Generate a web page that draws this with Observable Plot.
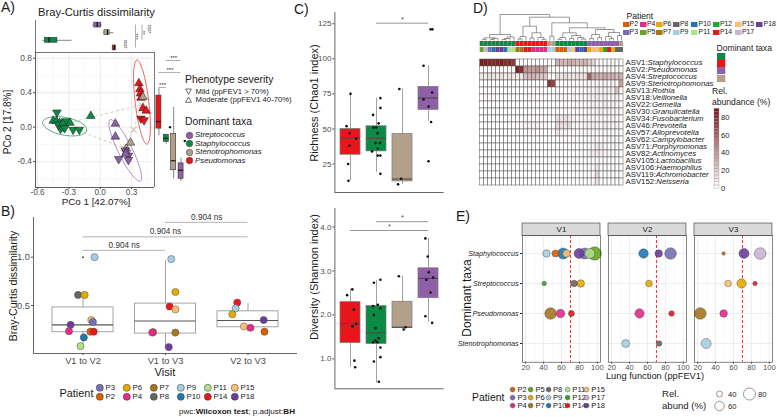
<!DOCTYPE html>
<html><head><meta charset="utf-8">
<script src="https://cdn.jsdelivr.net/npm/d3@7"></script>
<script src="https://cdn.jsdelivr.net/npm/@observablehq/plot@0.6"></script>
<style>
html,body{margin:0;padding:0;background:#fff;}
#root{position:relative;width:777px;height:417px;overflow:hidden;background:#fff;font-family:'Liberation Sans',Arial,Helvetica,sans-serif;color:#1a1a1a;}
#root svg{position:absolute;overflow:visible;max-width:none;}
.lbl{position:absolute;white-space:nowrap;line-height:1;}
.lg{position:absolute;display:grid;grid-auto-flow:column;align-items:center;white-space:nowrap;line-height:1;}
.it{display:flex;align-items:center;}
#root .it svg{position:static;flex:none;overflow:visible;}
</style></head><body><div id="root"></div><script>
// ================= DATA =================
// shared categories
const taxa = ["Streptococcus","Staphylococcus","Stenotrophomonas","Pseudomonas"];
const taxaColors = ["#8F5FA8","#0B8A45","#B2A08A","#E8161B"];
const patients = ["P2","P3","P4","P5","P6","P7","P8","P9","P10","P11","P12","P14","P15","P17","P18"];
const patientColors = ["#D95F02","#7570B3","#E7298A","#66A61E","#E6AB02","#A6761D","#666666","#A6CEE3","#1F78B4","#B2DF8A","#33A02C","#E31A1C","#FDBF6F","#CAB2D6","#6A3D9A"];

// A) PCoA points
const pcoTaxon = [
 "Staphylococcus","Staphylococcus","Staphylococcus","Staphylococcus","Staphylococcus","Staphylococcus","Staphylococcus","Staphylococcus","Staphylococcus","Staphylococcus","Staphylococcus","Staphylococcus","Staphylococcus","Staphylococcus","Staphylococcus",
 "Pseudomonas","Pseudomonas","Pseudomonas","Pseudomonas","Pseudomonas","Pseudomonas","Pseudomonas","Pseudomonas",
 "Stenotrophomonas","Stenotrophomonas","Stenotrophomonas",
 "Streptococcus","Streptococcus","Streptococcus","Streptococcus","Streptococcus","Streptococcus","Streptococcus","Streptococcus"];
const pcoX = [-0.415,-0.45,-0.42,-0.39,-0.37,-0.35,-0.38,-0.33,-0.29,-0.26,-0.20,-0.09,-0.40,-0.36,-0.34,
 0.37,0.38,0.385,0.39,0.41,0.44,0.39,0.42,
 0.41,0.29,0.25,
 0.145,0.145,0.24,0.25,0.27,0.177,0.27,0.245];
const pcoY = [0.17,0.075,0.07,0.05,0.03,0.0,-0.02,0.07,0.05,-0.03,-0.03,0.13,0.03,0.04,-0.01,
 0.51,0.44,0.39,0.34,0.22,0.19,0.10,0.08,
 0.35,-0.18,-0.25,
 0.04,-0.11,-0.27,-0.29,-0.33,-0.37,-0.38,-0.31];
const pcoSeverity = ["Mild","Moderate","Moderate","Moderate","Moderate","Mild","Mild","Mild","Moderate","Mild","Mild","Moderate","Mild","Moderate","Mild",
 "Moderate","Moderate","Moderate","Moderate","Moderate","Moderate","Mild","Mild",
 "Moderate","Moderate","Moderate",
 "Moderate","Moderate","Mild","Moderate","Mild","Mild","Mild","Moderate"];
const severityLabels = ["Mild (ppFEV1 > 70%)","Moderate (ppFEV1 40-70%)"];
const pcoXDomain = [-0.62, 0.52];
const pcoYDomain = [-0.70, 0.866];
const pcoTicksX = [-0.6,-0.3,0.0,0.3];
const pcoTicksY = [-0.4,0.0,0.4,0.8];
const pcoMinorX = [-0.45,-0.15,0.15,0.45];
const pcoMinorY = [-0.6,-0.2,0.2,0.6];
// 95% ellipses: centre, first and second half-axis vectors (data units)
const ellipseTaxon = ["Staphylococcus","Pseudomonas","Streptococcus"];
const ellipseCx = [-0.34, 0.40, 0.24];
const ellipseCy = [0.01, 0.29, -0.27];
const ellipseUx = [0.21, -0.048, -0.145];
const ellipseUy = [-0.05, 0.487, 0.355];
const ellipseVx = [0.02, 0.065, 0.06];
const ellipseVy = [0.10, 0.006, 0.036];
// group centroids and dashed links between them
const centroidTaxon = ["Staphylococcus","Pseudomonas","Stenotrophomonas","Streptococcus"];
const centroidX = [-0.36, 0.395, 0.32, 0.225];
const centroidY = [0.03, 0.26, -0.03, -0.24];
const linkFrom = ["Staphylococcus","Staphylococcus","Stenotrophomonas","Stenotrophomonas"];
const linkTo = ["Pseudomonas","Streptococcus","Pseudomonas","Streptococcus"];
// marginal boxplots (PCo1 on top, PCo2 on the right)
const topBoxTaxa = ["Streptococcus","Stenotrophomonas","Staphylococcus","Pseudomonas"];
const topBoxLo  = [-0.07, 0.035, -0.55, 0.115];
const topBoxQ1  = [-0.057, 0.04, -0.53, 0.12];
const topBoxMed = [-0.03, 0.07, -0.49, 0.135];
const topBoxQ3  = [0.01, 0.09, -0.41, 0.15];
const topBoxHi  = [0.02, 0.13, -0.27, 0.155];
const topSigX = [0.232, 0.338, 0.40, 0.46];
const topSigFrom = [2, 0, 0, 0];
const topSigTo = [3, 3, 2, 1];
const topSigLabel = ["****","***","**","****"];
const sideBoxTaxa = ["Pseudomonas","Staphylococcus","Stenotrophomonas","Streptococcus"];
const sideBoxLo  = [-0.10, -0.20, -0.60, -0.63];
const sideBoxQ1  = [-0.017, -0.17, -0.50, -0.60];
const sideBoxMed = [0.064, -0.13, -0.39, -0.50];
const sideBoxQ3  = [0.366, -0.09, -0.08, -0.42];
const sideBoxHi  = [0.45, -0.08, 0.23, -0.36];
const sideOutTaxa = ["Staphylococcus","Streptococcus"];
const sideOutY = [0.0, -0.16];
const sideSigY = [0.773, 0.633, 0.46];
const sideSigFrom = [1, 0, 0];
const sideSigTo = [3, 3, 1];
const sideSigLabel = ["***","***","***"];

// B) Bray-Curtis between visits
const visits = ["V1 to V2","V1 to V3","V2 to V3"];
const bcLo  = [0.08, 0.06, 0.23];
const bcQ1  = [0.224, 0.21, 0.275];
const bcMed = [0.30, 0.34, 0.345];
const bcQ3  = [0.48, 0.52, 0.44];
const bcHi  = [0.62, 0.97, 0.52];
const bcOutVisit = ["V1 to V2"];
const bcOutValue = [1.0];
const bcPointVisit = ["V1 to V2","V1 to V2","V1 to V2","V1 to V2","V1 to V2","V1 to V2","V1 to V2","V1 to V2","V1 to V2","V1 to V2","V1 to V2",
 "V1 to V3","V1 to V3","V1 to V3","V1 to V3","V1 to V3","V1 to V3","V1 to V3","V1 to V3",
 "V2 to V3","V2 to V3","V2 to V3","V2 to V3","V2 to V3","V2 to V3","V2 to V3"];
const bcPointPatient = ["P9","P8","P6","P18","P15","P3","P4","P2","P14","P10","P11",
 "P9","P6","P14","P15","P2","P4","P7","P18",
 "P14","P9","P6","P18","P15","P4","P2"];
const bcPointJitter = [0.14,-0.06,0.02,-0.15,0.10,0.12,-0.17,0.09,0.13,0.01,-0.03,
 0.07,0.12,0.05,0.12,-0.15,-0.16,0.12,0.04,
 -0.13,-0.15,-0.19,0.19,-0.05,0.03,0.2];
const bcPointValue = [1.0,0.61,0.61,0.30,0.35,0.33,0.235,0.23,0.23,0.17,0.08,
 0.98,0.64,0.49,0.46,0.225,0.22,0.22,0.07,
 0.53,0.47,0.41,0.35,0.285,0.27,0.23];
const bcSigFrom = [0, 0, 1];
const bcSigTo = [1, 2, 2];
const bcSigY = [1.07, 1.21, 1.36];
const bcSigLabel = ["0.904 ns","0.904 ns","0.904 ns"];
const bcTicks = [0.5, 1.0];
const bcDomain = [0.004, 1.41];

// C) alpha diversity by dominant taxon
const cTaxa = ["Pseudomonas","Staphylococcus","Stenotrophomonas","Streptococcus"];
const chaoLo  = [13, 19, 10.5, 55.4];
const chaoQ1  = [31.6, 34, 12.6, 63.6];
const chaoMed = [43.6, 43.3, 14.3, 72];
const chaoQ3  = [50, 51.9, 46.4, 80];
const chaoHi  = [75.4, 72, 78.6, 95];
const chaoGroup = [0,0,0,0,0,0,0, 1,1,1,1,1,1,1,1,1,1,1,1,1,1, 2,2,2, 3,3,3,3,3,3,3,3];
const chaoJitter = [0,-0.15,-0.03,0.22,-0.04,-0.09,-0.08,
 0.15,0.15,-0.13,0.08,-0.12,-0.01,0.04,-0.04,0.13,0.05,-0.17,0.05,0.15,0.15,
 -0.12,-0.05,-0.17,
 0.08,0.15,-0.19,0.14,-0.19,0,0.1,0];
const chaoValue = [75,52,47,43,38,25,13,
 72,65,60,54,51,51,47,40,40,36,34,31,31,18,
 78.5,14.5,10.5,
 121,121,95,76,71,66,55,27];
const chaoSigFrom = [1], chaoSigTo = [3], chaoSigY = [125.4], chaoSigLabel = ["*"];
const chaoDomain = [4.7, 133];
const chaoTicks = [25, 50, 75, 100, 125];
const shanLo  = [0.81, 0.45, 1.67, 1.83];
const shanQ1  = [1.36, 1.34, 1.70, 2.38];
const shanMed = [1.80, 1.59, 1.72, 2.83];
const shanQ3  = [2.29, 2.20, 2.30, 3.06];
const shanHi  = [2.59, 2.78, 2.88, 3.74];
const shanGroup = [0,0,0,0,0,0,0, 1,1,1,1,1,1,1,1,1,1,1,1,1,1,1, 2,2,2, 3,3,3,3,3,3,3,3];
const shanJitter = [0.07,-0.13,0.13,0.22,0.08,0.15,0.18,
 0.15,-0.1,-0.13,0.05,0.15,-0.1,-0.04,-0.04,0.09,-0.13,0.03,0.15,-0.1,0.15,0.09,
 -0.14,0.12,0.05,
 -0.12,-0.03,0.01,0.18,-0.08,0.08,-0.12,0.14];
const shanValue = [2.58,2.45,2.12,1.80,1.74,0.96,0.81,
 2.80,2.73,2.20,2.23,2.15,2.0,1.70,1.42,1.47,1.38,1.38,1.26,0.94,1.04,0.48,
 2.88,1.72,1.67,
 3.74,3.33,2.97,2.85,2.80,2.51,1.97,1.82];
const shanSigFrom = [1, 0], shanSigTo = [3, 3], shanSigY = [4.12, 3.92], shanSigLabel = ["*","*"];
const shanDomain = [0.32, 4.42];
const shanTicks = [1, 2, 3, 4];

// D) heatmap of relative abundance (%)
const asvNames = ["ASV1:Staphylococcus","ASV2:Pseudomonas","ASV4:Streptococcus","ASV9:Stenotrophomonas","ASV13:Rothia","ASV18:Veillonella","ASV22:Gemella","ASV30:Granulicatella","ASV34:Fusobacterium","ASV46:Prevotella","ASV57:Alloprevotella","ASV62:Campylobacter","ASV71:Porphyromonas","ASV82:Actinomyces","ASV105:Lactobacillus","ASV106:Haemophilus","ASV119:Achromobacter","ASV152:Neisseria"];
const heatTaxa = ["Staphylococcus","Staphylococcus","Staphylococcus","Staphylococcus","Staphylococcus","Staphylococcus","Staphylococcus","Staphylococcus","Staphylococcus",
 "Pseudomonas","Pseudomonas","Pseudomonas","Pseudomonas","Pseudomonas","Pseudomonas","Pseudomonas","Pseudomonas",
 "Stenotrophomonas","Stenotrophomonas",
 "Staphylococcus","Staphylococcus","Staphylococcus","Staphylococcus","Staphylococcus","Staphylococcus","Staphylococcus","Staphylococcus",
 "Streptococcus","Streptococcus","Streptococcus","Streptococcus","Streptococcus","Streptococcus","Streptococcus","Streptococcus",
 "Stenotrophomonas"];
const heatPatient = ["P5","P17","P3","P10","P18","P18","P10","P11","P11",
 "P7","P7","P14","P14","P4","P4","P4","P4",
 "P9","P9",
 "P2","P2","P2","P9","P15","P18","P10","P18",
 "P6","P15","P15","P6","P12","P14","P6","P8",
 "P8"];
const abundance = [
 [88,86,84,82,85,87,80,82,76, 2,1,0,1,2,1,0,1, 0,1, 30,28,26,32,30,25,27,29, 20,16,3,2,1,2,1,1, 0],
 [2,1,2,1,2,3,2,1,2, 86,80,42,40,38,44,36,34, 4,2, 2,1,2,1,2,1,3,2, 2,1,1,2,1,3,1,2, 1],
 [10,8,12,10,9,11,8,10,9, 8,10,24,28,30,26,24,22, 3,0, 12,10,14,12,10,12,10,11, 60,34,32,30,33,28,30,26, 30],
 [1,0,1,0,1,0,1,0,1, 1,0,1,2,1,0,1,1, 78,72, 2,1,2,3,2,1,2,2, 3,2,2,2,3,2,3,2, 36],
 [2,1,1,2,1,0,1,2,1, 0,1,2,1,1,2,1,0, 0,0, 3,2,1,2,3,2,1,2, 5,4,6,5,4,6,5,22, 3],
 [1,2,1,1,0,1,1,2,1, 1,2,1,3,2,1,2,1, 0,0, 4,3,2,3,4,2,3,2, 5,4,6,4,5,3,4,6, 1],
 [1,0,1,2,1,0,1,1,0, 1,0,1,2,1,1,0,1, 0,0, 2,1,2,1,2,3,1,2, 4,5,3,4,6,4,5,3, 1],
 [0,1,0,1,1,0,1,0,1, 0,1,0,1,2,1,1,0, 0,0, 2,1,2,2,1,2,1,1, 4,3,5,6,4,5,3,4, 1],
 [0,1,0,0,1,0,0,1,0, 1,2,3,2,1,2,1,1, 0,0, 12,10,11,8,3,2,2,3, 2,3,2,3,2,2,3,2, 0],
 [0,1,1,0,1,1,0,1,0, 2,3,5,6,5,6,4,3, 0,0, 15,14,12,14,4,3,3,4, 4,5,4,3,5,4,3,4, 0],
 [0,0,1,0,0,1,0,0,1, 0,1,1,2,1,1,1,0, 0,0, 10,5,3,2,1,1,2,1, 1,2,1,2,1,2,1,1, 0],
 [0,0,0,1,0,0,1,0,0, 1,0,1,1,0,1,0,1, 0,0, 2,3,2,1,2,1,1,2, 2,3,2,1,2,3,2,2, 0],
 [0,0,0,0,1,0,0,0,0, 0,0,1,0,1,0,0,0, 0,0, 2,1,1,2,1,0,1,1, 2,3,8,6,3,2,2,3, 0],
 [0,0,1,0,0,0,1,0,0, 0,1,0,0,1,0,0,1, 0,0, 1,1,0,1,1,0,1,1, 3,6,7,5,2,3,2,2, 0],
 [0,0,0,0,0,0,0,0,0, 0,0,0,1,0,0,0,0, 0,0, 0,1,0,0,1,0,0,0, 1,0,2,1,0,1,0,0, 0],
 [0,0,0,1,0,0,0,0,0, 0,0,1,0,0,0,1,0, 0,0, 1,0,1,0,0,1,0,0, 1,2,8,2,1,1,2,1, 0],
 [0,0,0,0,0,0,0,0,0, 0,0,0,0,0,0,0,0, 0,0, 0,0,0,0,0,0,0,0, 0,0,15,0,0,0,0,0, 0],
 [0,0,0,0,0,0,0,0,0, 0,0,0,0,0,0,0,0, 0,0, 0,0,0,0,0,0,0,0, 0,1,10,1,0,0,0,0, 0]
];
const heatMax = 89.4;
const heatTicks = [0, 20, 40, 60, 80];
// column dendrogram: [height, left, right], leaves are column indices
const dendroG1 = [6, [2.7, [1.2, 0, 1], [2, [1, 2, 3], 4]], [3.5, [2, [1, 5, 6], 7], 8]];
const dendroRed = [14.3, [4, [1.5, 9, 10], 11], [7.7, [2.5, 12, 13], [3, 14, [1.2, 15, 16]]]];
const dendroTan = [4.3, 17, 18];
const dendroG2 = [7.7, [3, [1.2, 19, 20], 21], [5, [2, 22, 23], [3, 24, [1.5, 25, 26]]]];
const dendroP = [11, [6, [2, 27, 28], [3, 29, 30]], [8, [4, 31, [2, 32, 33]], [5, 34, 35]]];
const dendroTree = [26, dendroG1, [23.3, dendroRed, [17.7, dendroTan, [12.7, dendroG2, dendroP]]]];
const dendroTop = 26;
const taxaLegendOrder = ["Staphylococcus","Pseudomonas","Streptococcus","Stenotrophomonas"];

// E) lung function vs dominant taxa per visit
const visitsE = ["V1","V2","V3"];
const taxaE = ["Staphylococcus","Streptococcus","Pseudomonas","Stenotrophomonas"];
const eVisit = ["V1","V1","V1","V1","V1","V1","V1","V1","V1","V1","V1","V1","V1","V1",
 "V2","V2","V2","V2","V2","V2","V2","V2",
 "V3","V3","V3","V3","V3","V3","V3","V3","V3"];
const eTaxon = ["Staphylococcus","Staphylococcus","Staphylococcus","Staphylococcus","Staphylococcus","Staphylococcus","Staphylococcus","Staphylococcus","Streptococcus","Streptococcus","Streptococcus","Pseudomonas","Pseudomonas","Pseudomonas",
 "Staphylococcus","Staphylococcus","Staphylococcus","Streptococcus","Pseudomonas","Pseudomonas","Stenotrophomonas","Stenotrophomonas",
 "Staphylococcus","Staphylococcus","Staphylococcus","Streptococcus","Streptococcus","Streptococcus","Pseudomonas","Pseudomonas","Stenotrophomonas"];
const ePatient = ["P9","P2","P10","P15","P18","P3","P11","P5","P12","P8","P6","P7","P4","P14",
 "P10","P18","P3","P6","P4","P14","P9","P8",
 "P2","P18","P17","P15","P6","P14","P7","P4","P9"];
const eFev = [43.3,53.3,61.9,65.5,79.6,85.9,91.5,97,40.7,74,81.5,47.8,58.9,71.1,
 55.6,72.5,85.7,61.7,51.1,86.8,35.7,73,
 49,71.7,89.8,54,69,84,23,49,29.5];
const eAbund = [47,45,71.5,47,63.7,71.5,63.7,93,34,43,47,76.5,54,40,
 59.4,47,76.5,43,59,38,50,38,
 31,63.7,76.5,43,59,34,76.5,48,63.7];
const fevThreshold = 70;
const fevDomain = [16.5, 103.5];
const fevTicks = [20, 40, 60, 80, 100];
const fevMinor = [30, 50, 70, 90];
const sizeLegendValues = [40, 60, 80];

// ================= HELPERS =================
const root = document.getElementById("root");
const FONT = "'Liberation Sans', Arial, Helvetica, sans-serif";
const TICK = "#4d4d4d";
const taxonColor = t => taxaColors[taxa.indexOf(t)];
const patientColor = p => patientColors[patients.indexOf(p)];
const sizeOf = v => Math.sqrt(Math.max(0, 0.675 * v - 18)); // ggplot-like area scale

function mk(opts) {
  return Plot.plot({...opts, style: {fontFamily: FONT, fontSize: "8px", background: "transparent", overflow: "visible", color: "#1a1a1a"}});
}
function put(svg, left, top) {
  svg.style.position = "absolute"; svg.style.left = left + "px"; svg.style.top = top + "px";
  svg.style.maxWidth = "none";
  root.appendChild(svg); return svg;
}
function label(str, x, y, o = {}) {
  const d = document.createElement("div"); d.className = "lbl";
  if (o.html) d.innerHTML = str; else d.textContent = str;
  d.style.left = x + "px"; d.style.top = y + "px"; d.style.fontSize = (o.size || 10) + "px";
  if (o.italic) d.style.fontStyle = "italic";
  if (o.color) d.style.color = o.color;
  const tx = o.anchor === "middle" ? "-50%" : o.anchor === "end" ? "-100%" : "0";
  d.style.transform = `translate(${tx},-50%)` + (o.rotate ? ` rotate(${o.rotate}deg)` : "");
  root.appendChild(d); return d;
}
function gridLegend(x, y, items, o) {
  const d = document.createElement("div"); d.className = "lg";
  d.style.left = x + "px"; d.style.top = y + "px";
  d.style.gridTemplateRows = `repeat(${o.rows}, ${o.rowH}px)`;
  d.style.gridTemplateColumns = o.cols.map(c => c + "px").join(" ");
  d.style.fontSize = o.font + "px";
  for (const it of items) {
    const e = document.createElement("div"); e.className = "it";
    e.innerHTML = it.swatch + (it.label ? `<span style="margin-left:${o.gap}px;${it.italic ? "font-style:italic;" : ""}">${it.label}</span>` : "");
    d.appendChild(e);
  }
  root.appendChild(d); return d;
}
const circleSw = (c, w, sw = 0.5) => `<svg width="${w}" height="${w}"><circle cx="${w/2}" cy="${w/2}" r="${w/2 - sw/2}" fill="${c}" stroke="#333" stroke-width="${sw}"/></svg>`;
const squareSw = (c, w, h) => `<svg width="${w}" height="${h}"><rect width="${w}" height="${h}" fill="${c}"/></svg>`;
const triSw = (down) => `<svg width="7" height="7"><path d="${down ? "M0.6,1 L6.4,1 L3.5,6.3 Z" : "M0.6,6.3 L6.4,6.3 L3.5,1 Z"}" fill="none" stroke="#333" stroke-width="0.7"/></svg>`;

function boxV(idx, pos, lo, q1, med, q3, hi, half, fill, stroke, medStroke, sw = 0.6) {
  return [
    Plot.ruleX(idx, {x: i => pos(i), y1: i => lo[i], y2: i => q1[i], stroke, strokeWidth: sw}),
    Plot.ruleX(idx, {x: i => pos(i), y1: i => q3[i], y2: i => hi[i], stroke, strokeWidth: sw}),
    Plot.rect(idx, {x1: i => pos(i) - half, x2: i => pos(i) + half, y1: i => q1[i], y2: i => q3[i], fill, stroke, strokeWidth: sw}),
    Plot.ruleY(idx, {x1: i => pos(i) - half, x2: i => pos(i) + half, y: i => med[i], stroke: medStroke, strokeWidth: 1.1})
  ];
}

// ================= PANEL A =================
const pcoData = pcoX.map((x, i) => ({x, y: pcoY[i], taxon: pcoTaxon[i], sev: pcoSeverity[i]}));
const ellPts = ellipseTaxon.flatMap((t, k) => d3.range(0, 73).map(j => {
  const a = 2 * Math.PI * j / 72;
  return {taxon: t,
    x: ellipseCx[k] + Math.cos(a) * ellipseUx[k] + Math.sin(a) * ellipseVx[k],
    y: ellipseCy[k] + Math.cos(a) * ellipseUy[k] + Math.sin(a) * ellipseVy[k]};
}));
const centroids = centroidTaxon.map((t, i) => ({taxon: t, x: centroidX[i], y: centroidY[i]}));
const cen = t => centroids[centroidTaxon.indexOf(t)];
const cLinks = linkFrom.map((f, i) => ({a: cen(f), b: cen(linkTo[i])}));

put(mk({
  width: 156, height: 205, marginLeft: 35, marginRight: 2, marginTop: 52, marginBottom: 18,
  x: {domain: pcoXDomain}, y: {domain: pcoYDomain},
  color: {domain: taxa, range: taxaColors},
  marks: [
    Plot.gridX(pcoMinorX, {stroke: "#f1f1f1", strokeOpacity: 1, strokeWidth: 0.5}),
    Plot.gridY(pcoMinorY, {stroke: "#f1f1f1", strokeOpacity: 1, strokeWidth: 0.5}),
    Plot.gridX(pcoTicksX, {stroke: "#e4e4e4", strokeOpacity: 1, strokeWidth: 0.7}),
    Plot.gridY(pcoTicksY, {stroke: "#e4e4e4", strokeOpacity: 1, strokeWidth: 0.7}),
    Plot.link(cLinks, {x1: d => d.a.x, y1: d => d.a.y, x2: d => d.b.x, y2: d => d.b.y, stroke: "#d3c5b1", strokeWidth: 0.9, strokeDasharray: "3,2.5"}),
    Plot.line(ellPts, {x: "x", y: "y", z: "taxon", stroke: "taxon", strokeWidth: 0.8, strokeOpacity: 0.85, curve: "linear"}),
    Plot.dot(centroids, {x: "x", y: "y", symbol: "times", stroke: "#cdb89e", r: 3.2, strokeWidth: 1}),
    Plot.dot(pcoData, {x: "x", y: "y", symbol: "triangle", rotate: d => d.sev === "Mild" ? 180 : 0, fill: "taxon", stroke: "#1a1a1a", strokeWidth: 0.5, r: 3.2}),
    Plot.ruleX([pcoXDomain[0]], {stroke: "#333", strokeWidth: 0.8}),
    Plot.ruleY([pcoYDomain[0]], {stroke: "#333", strokeWidth: 0.8}),
    Plot.ruleY([pcoYDomain[1]], {stroke: "#555", strokeWidth: 0.8}),
    Plot.ruleX([pcoXDomain[1]], {stroke: "#555", strokeWidth: 0.8}),
    Plot.axisX({ticks: pcoTicksX, tickFormat: d => d.toFixed(1), tickSize: 2, tickPadding: 0, fontSize: 8.2, color: TICK, label: null}),
    Plot.axisY({ticks: pcoTicksY, tickFormat: d => d.toFixed(1), tickSize: 2, tickPadding: 1.5, fontSize: 8.4, color: TICK, label: null})
  ]
}), 0, 0);

const topIdx = d3.range(topBoxTaxa.length);
const topSigIdx = d3.range(topSigX.length);
put(mk({
  width: 156, height: 52, marginLeft: 35, marginRight: 2, marginTop: 20, marginBottom: 0,
  x: {domain: pcoXDomain, axis: null}, y: {domain: [-0.6, 3.6], reverse: true, axis: null},
  color: {domain: taxa, range: taxaColors},
  marks: [
    Plot.ruleX([pcoXDomain[0]], {stroke: "#555", strokeWidth: 0.8}),
    Plot.ruleY(topIdx, {y: i => i, x1: i => topBoxLo[i], x2: i => topBoxQ1[i], stroke: "#333", strokeWidth: 0.6}),
    Plot.ruleY(topIdx, {y: i => i, x1: i => topBoxQ3[i], x2: i => topBoxHi[i], stroke: "#333", strokeWidth: 0.6}),
    Plot.rect(topIdx, {y1: i => i - 0.32, y2: i => i + 0.32, x1: i => topBoxQ1[i], x2: i => topBoxQ3[i], fill: i => topBoxTaxa[i], stroke: "#333", strokeWidth: 0.6}),
    Plot.ruleX(topIdx, {x: i => topBoxMed[i], y1: i => i - 0.32, y2: i => i + 0.32, stroke: "#111", strokeWidth: 1.2}),
    Plot.ruleX(topSigIdx, {x: i => topSigX[i], y1: i => topSigFrom[i], y2: i => topSigTo[i], stroke: "#777", strokeWidth: 0.6}),
    Plot.text(topSigIdx, {x: i => topSigX[i], y: i => (topSigFrom[i] + topSigTo[i]) / 2, text: i => topSigLabel[i], rotate: -90, dx: 3, fontSize: 5.5, fill: "#333"})
  ]
}), 0, 0);

const sideIdx = d3.range(sideBoxTaxa.length);
const sideSigIdx = d3.range(sideSigY.length);
put(mk({
  width: 32, height: 205, marginLeft: 0, marginRight: 1, marginTop: 52, marginBottom: 18,
  x: {domain: [-0.6, 3.6], axis: null}, y: {domain: pcoYDomain, axis: null},
  color: {domain: taxa, range: taxaColors},
  marks: [
    ...boxV(sideIdx, i => i, sideBoxLo, sideBoxQ1, sideBoxMed, sideBoxQ3, sideBoxHi, 0.34, i => sideBoxTaxa[i], "#333", "#111"),
    Plot.dot(sideOutTaxa, {x: (t) => sideBoxTaxa.indexOf(t) + 0.5, y: (t, i) => sideOutY[i], r: 1.2, fill: "#111"}),
    Plot.ruleY(sideSigIdx, {y: i => sideSigY[i], x1: i => sideSigFrom[i], x2: i => sideSigTo[i], stroke: "#777", strokeWidth: 0.6}),
    Plot.text(sideSigIdx, {y: i => sideSigY[i], x: i => (sideSigFrom[i] + sideSigTo[i]) / 2, text: i => sideSigLabel[i], dy: -2.5, fontSize: 6, fill: "#333"})
  ]
}), 154, 0);

label("A)", 1, 7, {size: 14});
label("Bray-Curtis dissimilarity", 38, 13, {size: 11.2});
label("PCo 2 [17.8%]", 8, 122, {size: 10, anchor: "middle", rotate: -90});
label("PCo 1 [42.07%]", 96, 202.3, {size: 9.8, anchor: "middle"});
label("Phenotype severity", 185, 80, {size: 10.4});
gridLegend(185, 87.7, severityLabels.map((s, i) => ({swatch: triSw(i === 0), label: s})), {rows: 2, rowH: 8, cols: [120], font: 7.7, gap: 3.5});
label("Dominant taxa", 185, 122, {size: 10.4});
gridLegend(185.5, 131, taxa.map(t => ({swatch: circleSw(taxonColor(t), 7), label: t, italic: true})), {rows: 4, rowH: 8.5, cols: [100], font: 7.9, gap: 2.5});

// ================= PANEL B =================
const vIdx = d3.range(visits.length);
const bPts = bcPointValue.map((v, i) => ({x: visits.indexOf(bcPointVisit[i]) + 1 + bcPointJitter[i], y: v, patient: bcPointPatient[i]}));
const bSigIdx = d3.range(bcSigY.length);
put(mk({
  width: 300, height: 165, marginLeft: 33, marginRight: 3, marginTop: 12, marginBottom: 17,
  x: {domain: [0.4, 3.6]}, y: {domain: bcDomain},
  color: {domain: patients, range: patientColors},
  marks: [
    Plot.ruleX([0.4], {stroke: "#555", strokeWidth: 0.9}),
    Plot.ruleY([bcDomain[0]], {stroke: "#555", strokeWidth: 0.9}),
    ...boxV(vIdx, i => i + 1, bcLo, bcQ1, bcMed, bcQ3, bcHi, 0.37, "white", "#9a9a9a", "#555", 0.9),
    Plot.dot(bcOutVisit, {x: v => visits.indexOf(v) + 1, y: (v, i) => bcOutValue[i], r: 1, fill: "#555"}),
    Plot.dot(bPts, {x: "x", y: "y", fill: "patient", stroke: "#555", strokeWidth: 0.5, r: 3.6}),
    Plot.ruleY(bSigIdx, {y: i => bcSigY[i], x1: i => bcSigFrom[i] + 1, x2: i => bcSigTo[i] + 1, stroke: "#aaa", strokeWidth: 0.9}),
    Plot.text(bSigIdx, {y: i => bcSigY[i], x: i => (bcSigFrom[i] + bcSigTo[i]) / 2 + 1, text: i => bcSigLabel[i], dy: -5, fontSize: 8.2, fill: "#333"}),
    Plot.axisX({ticks: [1, 2, 3], tickFormat: i => visits[i - 1], tickSize: 2, tickPadding: 1.5, fontSize: 9.3, color: TICK, label: null}),
    Plot.axisY({ticks: bcTicks, tickFormat: d => d.toFixed(1), tickSize: 2, tickPadding: 1.5, fontSize: 9.3, color: TICK, label: null})
  ]
}), 0, 205);
label("B)", 1, 211, {size: 14});
label("Bray-Curtis dissimilarity", 13, 286, {size: 10.6, anchor: "middle", rotate: -90});
label("Visit", 165, 373, {size: 11.2, anchor: "middle"});
label("Patient", 59.5, 393, {size: 10.9});
const bLegendOrder = ["P3","P2","P6","P4","P7","P8","P9","P10","P11","P14","P15","P18"];
gridLegend(95.9, 383.6, bLegendOrder.map(p => ({swatch: circleSw(patientColor(p), 7.6), label: p})), {rows: 2, rowH: 9, cols: [27, 27, 27, 27, 27, 30], font: 7.8, gap: 2});
label("pwc:<b>Wilcoxon test</b>; p.adjust:<b>BH</b>", 179, 411.5, {size: 8.1, html: true});

// ================= PANEL C =================
const cIdx = d3.range(cTaxa.length);
function cPanel(lo, q1, med, q3, hi, grp, jit, val, dom, ticks, sFrom, sTo, sY, sLab, top, mTop, mBot, h) {
  const pts = val.map((v, i) => ({x: grp[i] + 1 + jit[i], y: v}));
  const sIdx = d3.range(sY.length);
  return put(mk({
    width: 150, height: h, marginLeft: 34.4, marginRight: 6.4, marginTop: mTop, marginBottom: mBot,
    x: {domain: [0.4, 4.6], axis: null}, y: {domain: dom},
    color: {domain: taxa, range: taxaColors},
    marks: [
      Plot.ruleX([0.4], {stroke: "#555", strokeWidth: 0.9}),
      Plot.ruleY([dom[0]], {stroke: "#555", strokeWidth: 0.9}),
      ...boxV(cIdx, i => i + 1, lo, q1, med, q3, hi, 0.385, i => cTaxa[i], "#7a7a7a", "#4a4a4a", 0.7),
      Plot.dot(pts, {x: "x", y: "y", r: 1.3, fill: "#111"}),
      Plot.ruleY(sIdx, {y: i => sY[i], x1: i => sFrom[i] + 1, x2: i => sTo[i] + 1, stroke: "#8a8a8a", strokeWidth: 0.9}),
      Plot.text(sIdx, {y: i => sY[i], x: i => (sFrom[i] + sTo[i]) / 2 + 1, text: i => sLab[i], dy: -3.5, fontSize: 6.5, fill: "#333"}),
      Plot.axisY({ticks, tickSize: 2, tickPadding: 1.5, fontSize: 8, color: TICK, label: null})
    ]
  }), 300, top);
}
cPanel(chaoLo, chaoQ1, chaoMed, chaoQ3, chaoHi, chaoGroup, chaoJitter, chaoValue, chaoDomain, chaoTicks, chaoSigFrom, chaoSigTo, chaoSigY, chaoSigLabel, 0, 12, 8, 200);
cPanel(shanLo, shanQ1, shanMed, shanQ3, shanHi, shanGroup, shanJitter, shanValue, shanDomain, shanTicks, shanSigFrom, shanSigTo, shanSigY, shanSigLabel, 200, 8, 11.7, 200);
label("C)", 294, 9, {size: 14});
label("Richness (Chao1 index)", 314, 103, {size: 11, anchor: "middle", rotate: -90});
label("Diversity (Shannon index)", 314, 277, {size: 11, anchor: "middle", rotate: -90});

// ================= PANEL D =================
const nCols = heatTaxa.length;
const dSegs = [];
function layoutTree(node) {
  if (typeof node === "number") return {x: node + 0.5, h: 0};
  const [h, a, b] = node;
  const A = layoutTree(a), B = layoutTree(b);
  dSegs.push({x1: A.x, y1: A.h, x2: A.x, y2: h}, {x1: B.x, y1: B.h, x2: B.x, y2: h}, {x1: A.x, y1: h, x2: B.x, y2: h});
  return {x: (A.x + B.x) / 2, h};
}
layoutTree(dendroTree);
put(mk({
  width: 160, height: 41, marginLeft: 9.7, marginRight: 7, marginTop: 14, marginBottom: 1,
  x: {domain: [0, nCols], axis: null}, y: {domain: [0, dendroTop], axis: null},
  marks: [Plot.link(dSegs, {x1: "x1", y1: "y1", x2: "x2", y2: "y2", stroke: "#555", strokeWidth: 0.6})]
}), 470, 0);

const annot = d3.range(nCols).flatMap(c => [
  {col: c, row: "taxa", fill: taxonColor(heatTaxa[c])},
  {col: c, row: "patient", fill: patientColor(heatPatient[c])}
]);
put(mk({
  width: 160, height: 12, marginLeft: 9.7, marginRight: 7, marginTop: 0.5, marginBottom: 0.3,
  x: {domain: [0, nCols], axis: null}, y: {type: "band", domain: ["taxa", "patient"], paddingInner: 0.15, paddingOuter: 0, axis: null},
  marks: [Plot.barX(annot, {x1: "col", x2: d => d.col + 1, y: "row", fill: "fill"})]
}), 470, 40);

const cells = asvNames.flatMap((a, r) => abundance[r].map((v, c) => ({asv: a, col: c, v})));
const heatSvg = put(mk({
  width: 260, height: 141, marginLeft: 9.7, marginRight: 107, marginTop: 3.3, marginBottom: 1,
  x: {type: "band", domain: d3.range(nCols), padding: 0, axis: null},
  y: {type: "band", domain: asvNames, padding: 0, axis: null},
  color: {type: "linear", domain: [0, heatMax], range: ["#ffffff", "#7a1717"]},
  marks: [
    Plot.cell(cells, {x: "col", y: "asv", fill: "v", stroke: "#555", strokeWidth: 0.5}),
    Plot.text(asvNames, {y: d => d, text: d => d, frameAnchor: "right", textAnchor: "start", dx: 2, fontSize: 6.5, fill: "#1a1a1a"})
  ]
}), 470, 50);
heatSvg.querySelectorAll("text").forEach(t => {
  const s = t.textContent, k = s.indexOf(":");
  if (k > 0 && s.startsWith("ASV")) {
    t.textContent = "";
    const ns = "http://www.w3.org/2000/svg";
    const a = document.createElementNS(ns, "tspan"); a.textContent = s.slice(0, k + 1);
    const b = document.createElementNS(ns, "tspan"); b.textContent = s.slice(k + 1); b.setAttribute("font-style", "italic");
    t.append(a, b);
    const len = t.getComputedTextLength();
    if (len > 0) { t.setAttribute("textLength", (len * 1.2).toFixed(1)); t.setAttribute("lengthAdjust", "spacingAndGlyphs"); }
  }
});
// colour bar
const barStep = heatMax / 24;
const barStops = d3.range(0, 24).map(i => i * barStep);
put(mk({
  width: 45, height: 95, marginLeft: 14, marginRight: 26, marginTop: 8.3, marginBottom: 6.7,
  x: {domain: [0, 1], axis: null}, y: {domain: [0, heatMax]},
  color: {type: "linear", domain: [0, heatMax], range: ["#ffffff", "#7a1717"]},
  marks: [
    Plot.rect(barStops, {x1: 0, x2: 1, y1: d => d, y2: d => d + barStep, fill: d => d + barStep / 2, stroke: "#8a8a8a", strokeWidth: 0.3}),
    Plot.axisY({anchor: "right", ticks: heatTicks, tickSize: 0, tickPadding: 1.5, fontSize: 7.6, color: "#1a1a1a", label: null})
  ]
}), 700, 100);
label("D)", 473, 8, {size: 14});
label("Patient", 626.5, 16.3, {size: 8.6});
const dPatOrder = ["P2","P3","P4","P5","P6","P7","P8","P9","P10","P11","P12","P14","P15","P17","P18"];
gridLegend(622.5, 21.3, dPatOrder.map(p => ({swatch: squareSw(patientColor(p), 6.5, 5), label: p})), {rows: 2, rowH: 7.2, cols: [17.3, 16, 17, 18.7, 21.3, 22, 21.7, 22], font: 6.9, gap: 0.6});
label("Dominant taxa", 716.5, 48, {size: 8.6});
gridLegend(716.7, 53.3, taxaLegendOrder.map(t => ({swatch: squareSw(taxonColor(t), 8.3, 7.1), label: ""})), {rows: 4, rowH: 7.1, cols: [10], font: 7, gap: 0});
label("Rel.", 712, 91, {size: 8.6});
label("abundance (%)", 712, 102, {size: 8.6});

// ================= PANEL E =================
const ePts = eFev.map((f, i) => ({visit: eVisit[i], taxon: eTaxon[i], patient: ePatient[i], fev: f, size: sizeOf(eAbund[i])}));
const eSvg = put(mk({
  width: 367, height: 150, marginLeft: 111, marginRight: 3.7, marginTop: 0, marginBottom: 23.3,
  fx: {domain: visitsE, paddingInner: 0.097, paddingOuter: 0, axis: null, label: null},
  x: {domain: fevDomain}, y: {type: "point", domain: taxaE, padding: 0.57},
  r: {type: "linear", domain: [0, 10], range: [0, 10]},
  color: {domain: patients, range: patientColors},
  marks: [
    Plot.gridX(fevMinor, {stroke: "#f3f3f3", strokeOpacity: 1, strokeWidth: 0.5}),
    Plot.gridX(fevTicks, {stroke: "#e6e6e6", strokeOpacity: 1, strokeWidth: 0.7}),
    Plot.gridY(taxaE, {stroke: "#e6e6e6", strokeOpacity: 1, strokeWidth: 0.7}),
    Plot.ruleX([fevThreshold], {stroke: "#ff2a2a", strokeWidth: 1, strokeDasharray: "3,2"}),
    Plot.dot(ePts, {fx: "visit", x: "fev", y: "taxon", r: "size", fill: "patient", stroke: "#3a3a3a", strokeWidth: 0.4, fillOpacity: 0.9}),
    Plot.frame({stroke: "#333", strokeWidth: 0.6}),
    Plot.axisX({ticks: fevTicks, tickSize: 2, tickPadding: 0, fontSize: 7.6, color: TICK, label: null}),
    Plot.axisY({tickSize: 2, tickPadding: 2, fontSize: 7.2, fontStyle: "italic", color: "#1a1a1a", label: null})
  ]
}), 410, 235);
eSvg.querySelectorAll('[aria-label="y-axis tick label"] text').forEach(t => t.setAttribute("font-style", "italic"));
put(mk({
  width: 367, height: 12.3, marginLeft: 111, marginRight: 3.7, marginTop: 0, marginBottom: 0,
  x: {type: "band", domain: visitsE, paddingInner: 0.097, paddingOuter: 0, axis: null},
  marks: [
    Plot.cell(visitsE, {x: d => d, fill: "#d9d9d9", stroke: "#333", strokeWidth: 0.6}),
    Plot.text(visitsE, {x: d => d, text: d => d, fontSize: 8, fill: "#1a1a1a"})
  ]
}), 410, 222.7);
label("E)", 456, 216, {size: 14});
label("Dominant taxa", 466.7, 298, {size: 12, anchor: "middle", rotate: -90});
label("Lung function (ppFEV1)", 655, 377, {size: 9.3, anchor: "middle"});
label("Patient", 472, 398, {size: 10.4});
const eLegendOrder = ["P2","P3","P4","P5","P6","P7","P8","P9","P10","P11","P12","P14","P15","P17","P18"];
gridLegend(510.2, 385.2, eLegendOrder.map(p => ({swatch: circleSw(patientColor(p), 5.2, 0.4), label: p})), {rows: 3, rowH: 8.3, cols: [18, 17.6, 19.4, 19, 22], font: 7.6, gap: 2});
label("Rel.", 662, 394, {size: 9.6});
label("abund (%)", 662, 406, {size: 9.6});
const sizeSw = v => { const r = sizeOf(v); return `<svg width="13" height="12"><circle cx="6.5" cy="6" r="${r}" fill="none" stroke="#555" stroke-width="0.6"/></svg>`; };
gridLegend(713, 388.3, sizeLegendValues.map(v => ({swatch: sizeSw(v), label: String(v)})), {rows: 2, rowH: 12, cols: [30, 30], font: 7.6, gap: 2});
</script></body></html>
